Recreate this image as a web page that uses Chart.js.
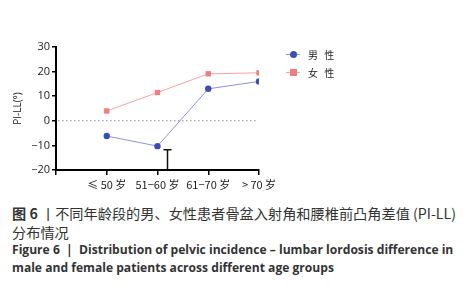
<!DOCTYPE html>
<html>
<head>
<meta charset="utf-8">
<script src="https://cdn.jsdelivr.net/npm/chart.js@4.4.1/dist/chart.umd.min.js"></script>
<style>
  body { margin: 0; background: #fff; width: 476px; height: 300px; overflow: hidden; font-family: "Noto Sans CJK SC", "Open Sans", sans-serif; }
  #wrap { position: absolute; left: 0; top: 0; width: 476px; height: 200px; }
  .legend { position: absolute; left: 286px; font-size: 10px; color: #222; letter-spacing: 2px; }
  .legend .mk { position: absolute; left: 0; top: 7px; width: 14px; height: 1px; }
  .legend .dot { position: absolute; left: 4px; top: 4px; width: 7px; height: 7px; }
  .legend span.t { position: absolute; left: 22px; top: 0; white-space: nowrap; }
  .cap { position: absolute; left: 12px; color: #333; white-space: nowrap; }
  .zh { font-family: "Noto Sans CJK SC", sans-serif; font-size: 14.2px; }
  .en { font-family: "Open Sans", sans-serif; font-weight: bold; font-size: 12.1px; }
</style>
</head>
<body>
<div id="wrap"><canvas id="chart" width="476" height="200"></canvas></div>
<div class="legend" style="top:47px"><div class="mk" style="background:#8d93d8"></div><div class="dot" style="background:#3b4cb4;border-radius:50%"></div><span class="t">男 性</span></div>
<div class="legend" style="top:65px"><div class="mk" style="background:#f2a4a4"></div><div class="dot" style="background:#f07e80"></div><span class="t">女 性</span></div>
<div class="cap zh" style="top:203px"><b>图 6</b> 丨不同年龄段的男、女性患者骨盆入射角和腰椎前凸角差值 (PI-LL)</div>
<div class="cap zh" style="top:222px">分布情况</div>
<div class="cap en" style="top:241px">Figure 6 &nbsp;|&nbsp; Distribution of pelvic incidence – lumbar lordosis difference in</div>
<div class="cap en" style="top:259px">male and female patients across different age groups</div>
<script>
// 年龄段与两组 PI-LL 均值
const ageGroups = ['≤ 50 岁', '51−60 岁', '61−70 岁', '> 70 岁'];
const maleValues = [-6.2, -10.3, 13, 16];
const femaleValues = [4, 11.5, 19.1, 19.5];
const yTicks = [-20, -10, 0, 10, 20, 30];
// 51-60 岁组下方的误差线（下端 / 上端）
const errorBarIndex = 1;
const errorBarRange = [-20, -11.8];

function toPoints(values) {
  return values.map(function(v, i) { return { x: i + 1, y: v }; });
}

// 零线（虚线）和误差线
const extrasPlugin = {
  id: 'extras',
  beforeDatasetsDraw: function(chart) {
    const ctx = chart.ctx;
    const xs = chart.scales.x, ys = chart.scales.y;
    const y0 = ys.getPixelForValue(0);
    ctx.save();
    ctx.strokeStyle = '#888';
    ctx.lineWidth = 1;
    ctx.setLineDash([1.5, 2.5]);
    ctx.beginPath();
    ctx.moveTo(chart.chartArea.left + 2, y0);
    ctx.lineTo(xs.getPixelForValue(ageGroups.length) - 2, y0);
    ctx.stroke();
    ctx.restore();
  },
  afterDatasetsDraw: function(chart) {
    const ctx = chart.ctx;
    const xs = chart.scales.x, ys = chart.scales.y;
    const px = xs.getPixelForValue(errorBarIndex + 1) + 10;
    const yLow = ys.getPixelForValue(errorBarRange[0]);
    const yHigh = ys.getPixelForValue(errorBarRange[1]);
    ctx.save();
    ctx.strokeStyle = '#111';
    ctx.lineWidth = 1.5;
    ctx.beginPath();
    ctx.moveTo(px, yLow);
    ctx.lineTo(px, yHigh);
    ctx.moveTo(px - 4, yHigh);
    ctx.lineTo(px + 4, yHigh);
    ctx.stroke();
    ctx.restore();
  }
};

new Chart(document.getElementById('chart'), {
  type: 'line',
  data: {
    datasets: [{
      label: '男 性',
      data: toPoints(maleValues),
      borderColor: '#8d93d8',
      borderWidth: 1,
      pointStyle: 'circle',
      pointRadius: 3.2,
      pointBackgroundColor: '#3b4cb4',
      pointBorderColor: '#3b4cb4',
      pointBorderWidth: 0,
    }, {
      label: '女 性',
      data: toPoints(femaleValues),
      borderColor: '#f2a4a4',
      borderWidth: 1,
      pointStyle: 'rect',
      pointRadius: 3.8,
      pointBackgroundColor: '#f07e80',
      pointBorderColor: '#f07e80',
      pointBorderWidth: 0,
    }]
  },
  options: {
    responsive: false,
    animation: false,
    layout: { padding: { left: 0, right: 217, top: 47, bottom: 0 } },
    plugins: {
      legend: { display: false },
      tooltip: { enabled: false },
    },
    scales: {
      x: {
        type: 'linear',
        min: 0,
        max: ageGroups.length,
        afterBuildTicks: function(scale) {
          scale.ticks = [0, 1, 2, 3, 4].map(function(v) { return { value: v }; });
        },
        afterFit: function(scale) { scale.height = 30; },
        grid: { drawOnChartArea: false, drawTicks: true, tickLength: 5, color: '#000', lineWidth: 1.5 },
        border: { color: '#000', width: 2 },
        ticks: {
          color: '#222',
          font: { family: 'Noto Sans CJK SC', size: 11 },
          padding: 3,
          maxRotation: 0,
          autoSkip: false,
          callback: function(v) { return v >= 1 ? ageGroups[v - 1] : ''; }
        }
      },
      y: {
        min: -20,
        max: 30,
        afterBuildTicks: function(scale) {
          scale.ticks = yTicks.map(function(v) { return { value: v }; });
        },
        afterFit: function(scale) { scale.width = 56; },
        grid: { drawOnChartArea: false, drawTicks: true, tickLength: 4, color: '#000', lineWidth: 1.5 },
        border: { color: '#000', width: 2 },
        title: { display: true, text: 'PI-LL(°)', color: '#222', font: { family: 'Open Sans', size: 10 }, padding: { top: 12, bottom: 0 } },
        ticks: {
          color: '#222',
          font: { family: 'Open Sans', size: 11 },
          padding: 2,
          callback: function(v) { return String(v).replace('-', '−'); }
        }
      }
    }
  },
  plugins: [extrasPlugin]
});
</script>
</body>
</html>
